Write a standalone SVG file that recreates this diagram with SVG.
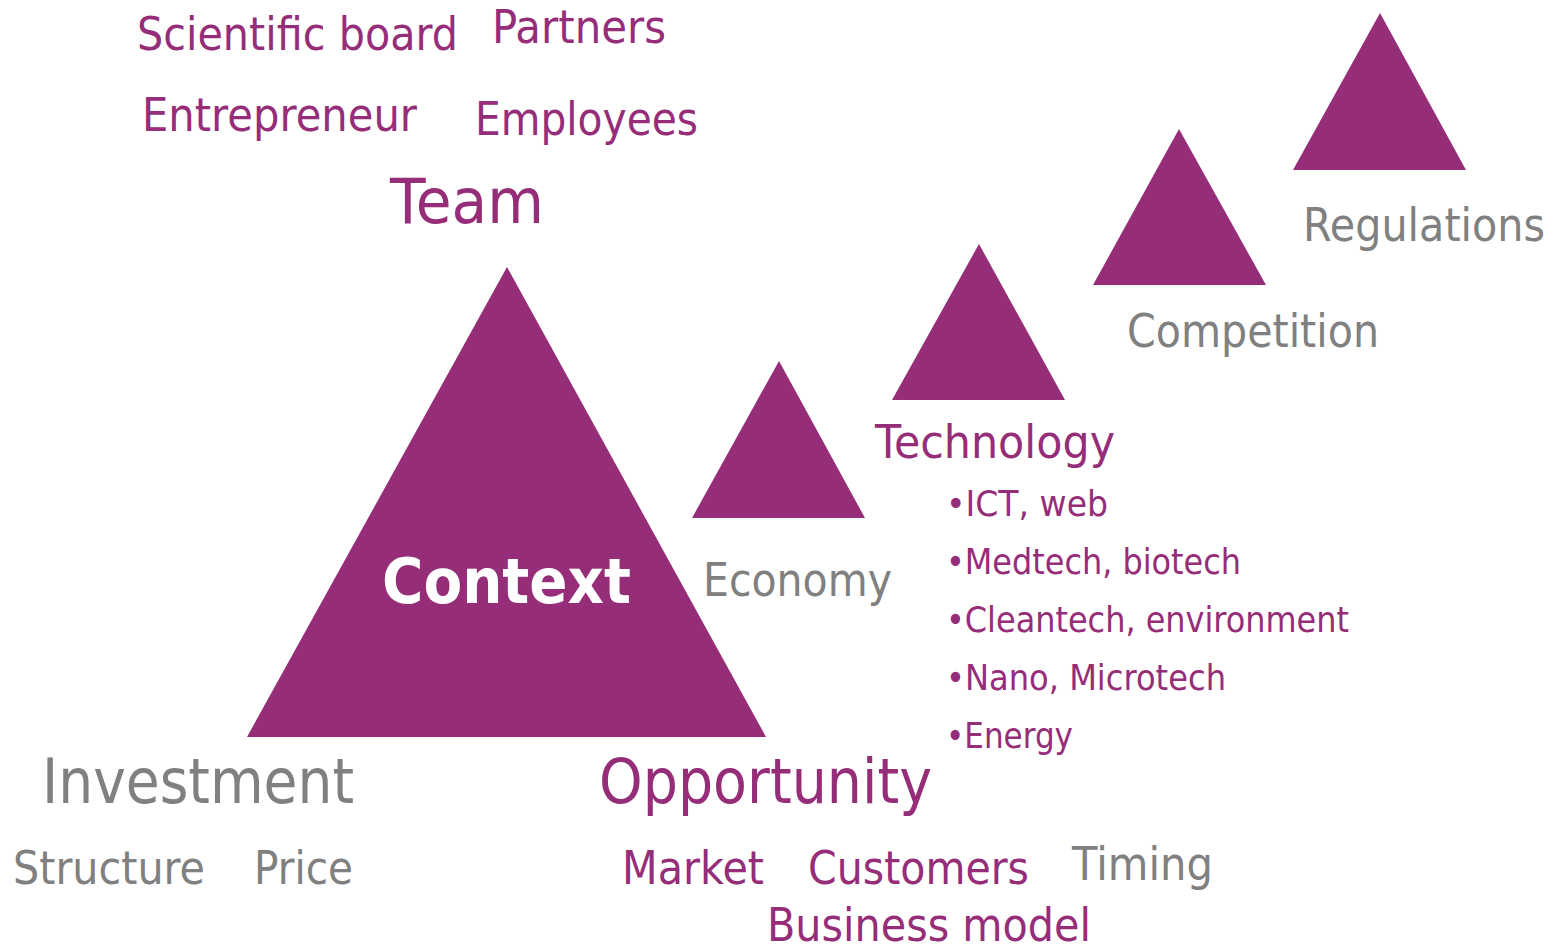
<svg xmlns="http://www.w3.org/2000/svg" width="1565" height="949" viewBox="0 0 1565 949">
<style>
text{font-family:"DejaVu Sans","Liberation Sans",sans-serif;}
.p{fill:#952d79;}
.g{fill:#808080;}
.tri{fill:#952d79;}
.l{font-size:62px;}
.m{font-size:47px;}
.s{font-size:36px;}
.w{fill:#ffffff;font-weight:bold;font-size:62px;}
</style>
<rect width="1565" height="949" fill="#ffffff"/>
<g id="connectors"></g>
<g id="context">
<polygon class="tri" points="507,267 766,737 247,737"/>
<text class="w" x="382" y="603" textLength="249" lengthAdjust="spacingAndGlyphs">Context</text>
</g>
<g id="team">
<text class="p l" x="390" y="223" textLength="154" lengthAdjust="spacingAndGlyphs">Team</text>
<text class="p m" x="137" y="50" textLength="321" lengthAdjust="spacingAndGlyphs">Scientific board</text>
<text class="p m" x="492" y="43" textLength="174" lengthAdjust="spacingAndGlyphs">Partners</text>
<text class="p m" x="142" y="131" textLength="275" lengthAdjust="spacingAndGlyphs">Entrepreneur</text>
<text class="p m" x="475" y="135" textLength="223" lengthAdjust="spacingAndGlyphs">Employees</text>
</g>
<g id="economy">
<polygon class="tri" points="779,361 865,518 692,518"/>
<text class="g m" x="703" y="596" textLength="189" lengthAdjust="spacingAndGlyphs">Economy</text>
</g>
<g id="technology">
<polygon class="tri" points="979,244 1065,400 892,400"/>
<text class="p m" x="875" y="458" textLength="240" lengthAdjust="spacingAndGlyphs">Technology</text>
<text class="p s" x="946" y="516" textLength="162" lengthAdjust="spacingAndGlyphs">•ICT, web</text>
<text class="p s" x="946" y="574" textLength="295" lengthAdjust="spacingAndGlyphs">•Medtech, biotech</text>
<text class="p s" x="946" y="632" textLength="403" lengthAdjust="spacingAndGlyphs">•Cleantech, environment</text>
<text class="p s" x="946" y="690" textLength="280" lengthAdjust="spacingAndGlyphs">•Nano, Microtech</text>
<text class="p s" x="946" y="748" textLength="127" lengthAdjust="spacingAndGlyphs">•Energy</text>
</g>
<g id="competition">
<polygon class="tri" points="1179,129 1266,285 1093,285"/>
<text class="g m" x="1127" y="347" textLength="252" lengthAdjust="spacingAndGlyphs">Competition</text>
</g>
<g id="regulations">
<polygon class="tri" points="1380,13 1466,170 1293,170"/>
<text class="g m" x="1303" y="241" textLength="242" lengthAdjust="spacingAndGlyphs">Regulations</text>
</g>
<g id="investment">
<text class="g l" x="42" y="803" textLength="312" lengthAdjust="spacingAndGlyphs">Investment</text>
<text class="g m" x="13" y="884" textLength="192" lengthAdjust="spacingAndGlyphs">Structure</text>
<text class="g m" x="254" y="884" textLength="99" lengthAdjust="spacingAndGlyphs">Price</text>
</g>
<g id="opportunity">
<text class="p l" x="599" y="803" textLength="333" lengthAdjust="spacingAndGlyphs">Opportunity</text>
<text class="p m" x="622" y="884" textLength="142" lengthAdjust="spacingAndGlyphs">Market</text>
<text class="p m" x="808" y="884" textLength="221" lengthAdjust="spacingAndGlyphs">Customers</text>
<text class="g m" x="1072" y="880" textLength="141" lengthAdjust="spacingAndGlyphs">Timing</text>
<text class="p m" x="767" y="941" textLength="324" lengthAdjust="spacingAndGlyphs">Business model</text>
</g>
</svg>
